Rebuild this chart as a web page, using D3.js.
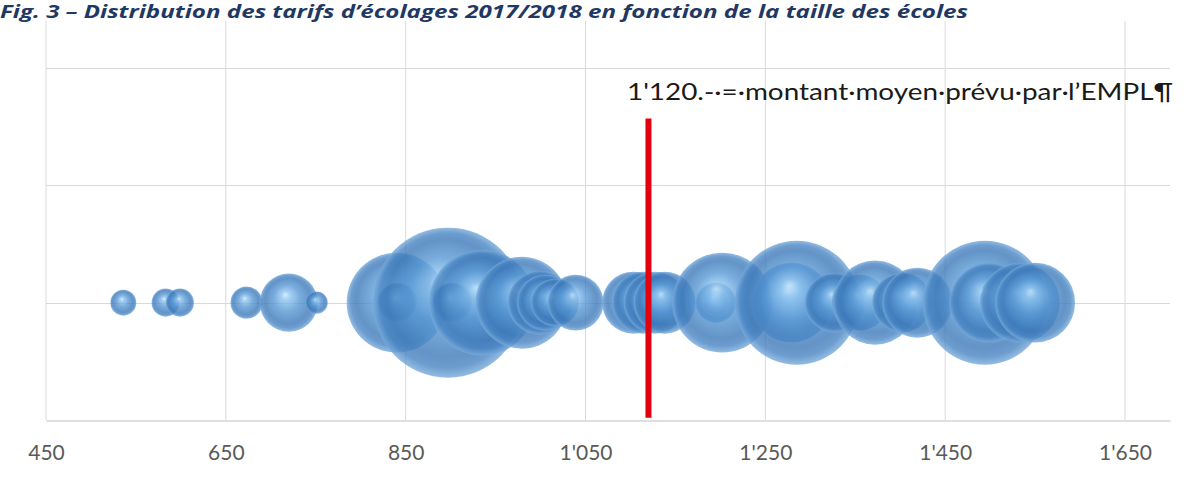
<!DOCTYPE html>
<html lang="fr">
<head>
<meta charset="utf-8">
<script src="https://cdn.jsdelivr.net/npm/d3@7/dist/d3.min.js"></script>
<style>
  html, body { margin: 0; padding: 0; background: #ffffff; }
  svg { display: block; }
</style>
</head>
<body>
<svg id="chart" width="1203" height="483"></svg>
<script>
// Tarifs d'écolage annuels (CHF) et taille des écoles (nombre d'élèves)
const tarifs = [536, 583, 599, 673, 720, 751, 840, 841, 897, 902, 935, 979, 999, 1005, 1016, 1039,
                1103, 1114, 1127, 1138, 1195, 1195, 1202, 1279, 1285, 1327, 1355, 1372, 1402, 1419,
                1494, 1499, 1533, 1550];
const effectifs = [30, 35, 35, 46, 150, 22, 444, 71, 1000, 71, 499, 376, 182, 139, 102, 139,
                   171, 171, 171, 171, 26, 71, 444, 284, 683, 160, 139, 314, 160, 218,
                   683, 284, 284, 284];
// Toutes les écoles sont placées sur la même ligne
const niveau = 1;

const xTicks = [450, 650, 850, 1050, 1250, 1450, 1650];
const yTicks = [0, 1, 2, 3];

// Montant moyen prévu par l'EMPL
const montantMoyen = 1120;
const titre = "Fig. 3 – Distribution des tarifs d’écolages 2017/2018 en fonction de la taille des écoles";
const annotation = "1'120.-·=·montant·moyen·prévu·par·l’EMPL¶";

const svg = d3.select("#chart");

const x = d3.scaleLinear().domain([450, 1700]).range([46, 1170]);
const y = d3.scaleLinear().domain([0, 3.4]).range([420, 21]);
const r = d3.scaleSqrt().domain([0, 1000]).range([0, 75]);

const fmt = d3.formatLocale({ decimal: ".", thousands: "'", grouping: [3], currency: ["", ""] }).format(",d");

// Dégradé « bulle 3D »
const defs = svg.append("defs");
const grad = defs.append("radialGradient")
  .attr("id", "bulle")
  .attr("cx", "50%").attr("cy", "50%").attr("r", "50%")
  .attr("fx", "44%").attr("fy", "36%");
[
  [0.00, "#cdeafd"],
  [0.15, "#8fc4ef"],
  [0.45, "#5898d4"],
  [0.78, "#3d79b9"],
  [0.90, "#4884c2"],
  [1.00, "#78abdb"]
].forEach(([o, c]) => grad.append("stop").attr("offset", o).attr("stop-color", c));

// Titre
svg.append("text")
  .attr("x", 0).attr("y", 18)
  .attr("textLength", 968)
  .attr("lengthAdjust", "spacingAndGlyphs")
  .style("font-family", "'Open Sans', 'Noto Sans', sans-serif")
  .style("font-weight", "700")
  .style("font-style", "italic")
  .style("font-size", "18px")
  .style("fill", "#1f3864")
  .text(titre);

// Quadrillage
const grid = svg.append("g");
grid.selectAll("line.v")
  .data(xTicks)
  .join("line")
  .attr("class", "v")
  .attr("x1", d => x(d)).attr("x2", d => x(d))
  .attr("y1", y(3.4)).attr("y2", y(0))
  .attr("stroke", "#d9d9d9").attr("stroke-width", 1);
grid.selectAll("line.h")
  .data(yTicks.filter(d => d > 0))
  .join("line")
  .attr("class", "h")
  .attr("x1", x(450)).attr("x2", x(1700))
  .attr("y1", d => Math.round(y(d)) + 0.5).attr("y2", d => Math.round(y(d)) + 0.5)
  .attr("stroke", "#d9d9d9").attr("stroke-width", 1);

// Axe horizontal
const xAxis = svg.append("g")
  .attr("transform", `translate(0,${Math.round(y(0)) + 0.5})`)
  .call(d3.axisBottom(x).tickValues(xTicks).tickFormat(fmt).tickSize(0).tickPadding(0));
xAxis.select(".domain").attr("stroke", "#bfbfbf").attr("stroke-width", 1.2);
xAxis.selectAll("text")
  .attr("dy", 0)
  .attr("y", 39)
  .style("font-family", "Lato, 'Open Sans', sans-serif")
  .style("font-size", "21px")
  .style("fill", "#595959");

// Bulles
const ecoles = tarifs.map((t, i) => ({ tarif: t, effectif: effectifs[i] }));
svg.append("g")
  .selectAll("circle")
  .data(ecoles)
  .join("circle")
  .attr("cx", d => x(d.tarif))
  .attr("cy", y(niveau))
  .attr("r", d => r(d.effectif))
  .attr("fill", "url(#bulle)")
  .attr("fill-opacity", 0.8);

// Ligne du montant moyen
svg.append("line")
  .attr("x1", x(montantMoyen)).attr("x2", x(montantMoyen))
  .attr("y1", y(2.57)).attr("y2", y(0.02))
  .attr("stroke", "#e3000f")
  .attr("stroke-width", 6);

svg.append("text")
  .attr("x", 627).attr("y", 100)
  .attr("textLength", 546)
  .attr("lengthAdjust", "spacingAndGlyphs")
  .style("font-family", "Lato, 'Open Sans', sans-serif")
  .style("font-size", "23px")
  .style("fill", "#1a1a1a")
  .text(annotation);
</script>
</body>
</html>
